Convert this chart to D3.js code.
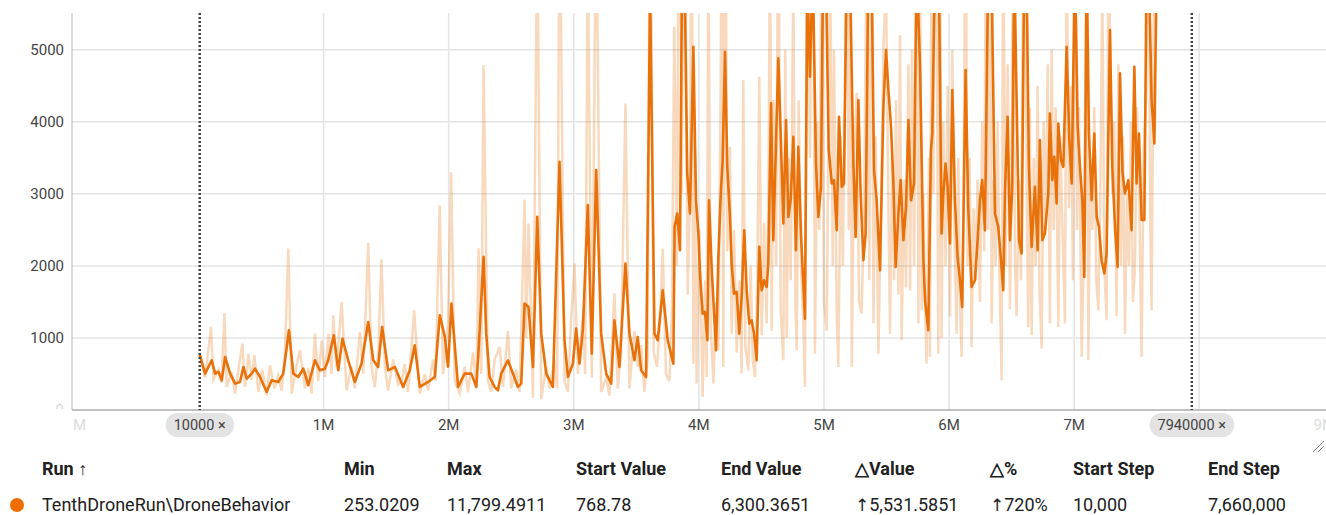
<!DOCTYPE html>
<html lang="en">
<head>
<meta charset="utf-8">
<script src="https://cdn.jsdelivr.net/npm/d3@7"></script>
<title>DroneBehavior</title>
<style>
  body { margin: 0; background: #fff; }
  text { font-family: Roboto, "Noto Sans", sans-serif; }
</style>
</head>
<body>
<div id="chart"></div>
<script>

// steps in millions
const rawSteps = [0.013,0.053,0.10,0.12,0.16,0.186,0.207,0.226,0.266,0.292,0.319,0.351,0.372,0.40,0.425,0.447,0.479,0.51,0.545,0.571,0.607,0.638,0.665,0.691,0.718,0.745,0.785,0.811,0.851,0.878,0.904,0.931,0.958,0.984,1.01,1.04,1.064,1.077,1.104,1.144,1.184,1.223,1.25,1.29,1.317,1.357,1.383,1.41,1.437,1.463,1.49,1.516,1.556,1.596,1.622,1.649,1.676,1.724,1.769,1.809,1.836,1.875,1.894,1.928,1.955,1.995,2.02,2.048,2.088,2.128,2.155,2.195,2.221,2.239,2.26,2.279,2.314,2.34,2.367,2.407,2.434,2.474,2.50,2.54,2.567,2.607,2.62,2.638,2.674,2.708,2.74,2.78,2.806,2.846,2.867,2.886,2.926,2.953,2.98,3.006,3.033,3.073,3.091,3.112,3.144,3.179,3.219,3.259,3.285,3.325,3.352,3.378,3.413,3.445,3.484,3.511,3.538,3.564,3.591,3.61,3.639,3.666,3.692,3.711,3.737,3.764,3.785,3.803,3.825,3.843,3.862,3.883,3.911,
  3.929,3.942,3.956,3.969,3.982,4.004,4.030,4.049,4.062,4.076,4.094,4.116,4.137,4.156,4.174,4.185,4.195,4.211,4.227,4.249,4.262,4.281,4.302,4.323,4.342,4.355,4.371,4.395,4.414,4.430,4.449,4.467,4.483,4.502,4.521,4.542,4.558,4.569,4.582,4.595,4.617,4.635,4.654,4.675,4.691,4.702,4.718,4.734,4.755,4.771,4.782,4.798,4.816,4.835,4.848,4.867,4.888,4.910,4.928,4.947,4.963,4.982,5.000,5.022,5.038,5.048,5.070,5.080,5.102,5.115,5.134,5.150,5.168,5.182,5.198,5.214,5.222,5.240,5.262,5.280,5.301,5.320,5.341,5.363,5.381,5.395,5.413,5.435,5.453,5.475,5.496,5.515,5.528,5.544,5.560,5.576,5.595,5.608,5.621,5.640,5.656,5.675,5.688,5.704,5.720,5.741,5.755,5.768,5.781,5.795,
  5.807,5.820,5.839,5.847,5.860,5.874,5.892,5.914,5.927,5.940,5.954,5.972,5.988,6.007,6.026,6.042,6.060,6.074,6.087,6.100,6.116,6.132,6.148,6.164,6.180,6.196,6.212,6.228,6.247,6.265,6.281,6.297,6.313,6.329,6.340,6.356,6.372,6.388,6.404,6.420,6.433,6.452,6.468,6.487,6.500,6.513,6.527,6.540,6.559,6.575,6.593,6.607,6.620,6.633,6.646,6.660,6.676,6.692,6.708,6.724,6.740,6.756,6.772,6.788,6.806,6.820,6.836,6.852,6.873,6.889,6.905,6.926,6.940,6.958,6.974,6.990,7.006,7.022,7.038,7.060,7.081,7.100,7.113,7.129,7.145,7.161,7.177,7.193,7.209,7.225,7.241,7.259,7.273,7.289,7.305,7.321,7.339,7.353,7.374,7.390,7.406,7.422,7.438,7.454,7.470,7.486,7.502,7.518,7.539,7.555,7.577,7.593,7.609,7.619,7.633,7.646,7.66];
const rawValues = [768,450,1153,420,560,380,1347,320,520,227,560,921,320,780,420,760,250,560,204,620,300,480,270,780,2240,230,620,830,300,580,230,1060,400,968,460,1060,500,1315,600,1500,270,600,300,1083,500,2320,600,320,800,2088,600,270,700,350,390,640,250,1384,227,500,270,700,400,2840,500,1200,3300,400,227,600,250,800,320,2245,500,4787,400,250,700,875,320,1100,300,560,250,2922,1000,2588,170,6800,150,600,300,700,300,7500,400,250,1300,2032,500,1300,500,6500,450,7200,250,450,200,1616,300,800,4255,300,1100,600,900,250,700,8500,800,600,1300,2240,500,400,1400,5320,2000,9000,3000,8000,1600,
  3000,8000,643,3500,366,2500,180,1800,458,6500,1200,366,1500,829,4500,7500,597,8000,2200,3653,1060,2500,800,1800,505,4579,900,550,2000,700,458,1800,4625,1037,2600,1200,3500,7000,1100,4301,2000,7500,1400,690,5000,1000,3500,1800,6000,1500,829,4300,2000,1200,320,8500,3500,9000,782,4000,2500,7000,1500,1100,4200,6500,2000,5000,1300,597,3800,2000,4500,8000,2500,7000,597,3500,4400,1500,1338,2800,6500,1800,9000,1200,3800,782,2500,5000,6000,2800,1060,3500,1800,4300,1600,5200,968,3200,1700,4800,1659,5000,2000,7000,1200,6500,1384,3000,
  1523,643,3500,736,7000,3000,9000,782,7500,1000,4000,2000,4500,1300,5000,2500,1060,3500,1500,736,3000,7500,2000,3500,875,2800,1800,3200,1500,4000,2200,8000,2500,9000,1199,3200,2000,4000,1800,412,7000,2000,4800,1400,3500,8000,2000,1300,3200,1800,6500,7500,3000,1150,4200,1037,3500,2000,4500,1600,852,4000,2500,4800,1199,5000,2500,4200,1153,3800,2600,1199,6500,2800,4500,1800,8000,2500,4200,736,2500,7500,690,3500,2500,4200,1800,1384,3000,6000,2000,1245,6500,5000,3000,4000,1300,4800,2000,3800,1060,3000,2000,4000,1500,1986,4200,3200,736,3500,4500,8000,2500,1384,5000,7000,6300];

const smoothSteps = [0.01,0.053,0.106,0.133,0.16,0.186,0.213,0.253,0.293,0.332,0.359,0.386,0.425,0.452,0.492,0.545,0.585,0.638,0.678,0.723,0.758,0.798,0.838,0.878,0.931,0.971,1.011,1.037,1.082,1.117,1.151,1.197,1.25,1.303,1.357,1.397,1.436,1.468,1.516,1.57,1.636,1.689,1.729,1.769,1.836,1.889,1.929,1.969,1.995,2.022,2.075,2.128,2.181,2.221,2.239,2.279,2.30,2.327,2.367,2.394,2.42,2.474,2.514,2.553,2.58,2.607,2.638,2.674,2.708,2.74,2.78,2.833,2.886,2.926,2.953,2.993,3.019,3.046,3.073,3.112,3.144,3.179,3.219,3.259,3.299,3.325,3.365,3.413,3.445,3.485,3.511,3.538,3.578,3.61,3.645,3.671,3.711,3.751,3.777,3.796,3.806,3.827,3.849,3.867,3.886,3.907,
  3.929,3.956,3.977,3.996,4.009,4.030,4.049,4.068,4.081,4.102,4.116,4.137,4.156,4.174,4.190,4.209,4.227,4.249,4.262,4.281,4.302,4.323,4.342,4.363,4.382,4.403,4.422,4.441,4.462,4.483,4.502,4.521,4.542,4.555,4.577,4.595,4.617,4.635,4.654,4.675,4.697,4.715,4.734,4.755,4.776,4.795,4.816,4.848,4.867,4.888,4.910,4.936,4.955,4.976,4.995,5.016,5.038,5.062,5.080,5.102,5.120,5.142,5.160,5.182,5.208,5.235,5.253,5.275,5.293,5.315,5.333,5.355,5.381,5.400,5.421,5.448,5.475,5.496,5.515,5.536,5.555,5.573,5.595,5.613,5.635,5.656,5.675,5.696,5.720,5.741,5.768,5.795,5.808,
  5.834,5.855,5.866,5.887,5.919,5.940,5.954,5.972,5.988,6.007,6.026,6.047,6.068,6.087,6.105,6.132,6.153,6.180,6.207,6.228,6.247,6.265,6.287,6.313,6.340,6.367,6.393,6.415,6.433,6.447,6.468,6.487,6.505,6.521,6.540,6.559,6.580,6.601,6.620,6.638,6.660,6.686,6.708,6.726,6.745,6.766,6.793,6.806,6.825,6.841,6.860,6.873,6.894,6.913,6.940,6.961,6.980,7.006,7.028,7.046,7.065,7.081,7.100,7.118,7.140,7.161,7.180,7.198,7.219,7.241,7.259,7.286,7.305,7.326,7.347,7.366,7.387,7.406,7.433,7.459,7.481,7.499,7.518,7.539,7.561,7.579,7.598,7.619,7.641,7.66];
const smoothValues = [769,505,690,505,528,412,736,505,366,389,597,435,505,574,458,250,412,389,505,1107,505,458,574,343,690,551,574,690,1037,551,990,690,389,643,1222,690,597,1153,551,597,320,551,898,320,389,458,1315,1014,600,1477,320,505,505,320,829,2125,1060,458,320,273,505,690,505,320,366,1477,1430,597,2680,1060,505,320,3445,968,458,643,1130,643,1130,2843,782,3329,1060,505,366,1245,597,2032,1060,690,1014,551,458,5800,1060,968,1662,968,782,643,2542,2727,2218,6500,6000,3283,
  2727,5042,2912,2449,1894,1338,1361,968,2912,1986,1523,829,2125,2958,3468,4972,3375,2680,2032,1616,1639,1060,1570,2495,1662,1199,1245,1060,690,2264,1662,1801,1708,2032,4255,2357,3746,4880,3838,2588,4024,2680,2912,3792,2218,3653,2449,1268,6000,4625,6200,3421,2680,3098,6500,6000,3607,3144,3190,2495,4070,3098,3144,6200,6000,3421,2403,4301,3005,2079,2449,6200,6000,3329,2912,1940,4209,4996,4440,3931,3144,1986,2727,3190,2357,2820,4024,2912,3144,6200,4764,2079,1523,
  1107,3607,3838,6200,6000,2449,3005,3421,3098,2310,4440,2912,2125,1801,1430,4718,2820,1708,1801,2357,2912,3190,2495,6200,6000,2727,2542,2079,1662,3051,4070,2357,3098,6200,4301,2357,2171,6200,6000,3375,2264,3098,2218,3746,2357,2449,3005,4116,3190,3514,2866,3977,3468,3375,5042,3746,3144,6200,3931,3375,2912,1847,6200,3838,2912,3838,2680,2542,2079,1894,2171,5273,3375,2542,1986,4672,3283,3005,3190,2495,4764,3144,3838,2636,2636,6200,6000,4301,3699,6200];

const yTicks = [0, 1000, 2000, 3000, 4000, 5000];
const xTicks = [-1, 0, 1, 2, 3, 4, 5, 6, 7, 8, 9];
const markers = [0.01, 7.94];
const markerLabels = ["10000 ×", "7940000 ×"];

const columns = ["Run ↑", "Min", "Max", "Start Value", "End Value", "△Value", "△%", "Start Step", "End Step"];
const rowValues = ["TenthDroneRun\\DroneBehavior", "253.0209", "11,799.4911", "768.78", "6,300.3651", "5,531.5851", "720%", "10,000", "7,660,000"];

const W = 1326, H = 515;
const plot = {left: 72, right: 1326, top: 13, bottom: 410};
const orange = "#e8710a";

const svg = d3.select("#chart").append("svg")
  .attr("width", W).attr("height", H);

const x = d3.scaleLinear().domain([-1.011, 9.013]).range([plot.left, plot.right]);
const y = d3.scaleLinear().domain([0, 5510]).range([plot.bottom, plot.top]);

const defs = svg.append("defs");
defs.append("clipPath").attr("id", "plotclip")
  .append("rect").attr("x", plot.left).attr("y", plot.top)
  .attr("width", plot.right - plot.left).attr("height", plot.bottom - plot.top);
defs.append("clipPath").attr("id", "xlabclip")
  .append("rect").attr("x", plot.left).attr("y", plot.bottom)
  .attr("width", plot.right - plot.left).attr("height", 30);
defs.append("clipPath").attr("id", "ylabclip")
  .append("rect").attr("x", 0).attr("y", 0)
  .attr("width", plot.left).attr("height", plot.bottom - 1);

// grid
svg.append("g").selectAll("line").data(yTicks.filter(d => d > 0)).join("line")
  .attr("x1", plot.left).attr("x2", plot.right)
  .attr("y1", d => y(d)).attr("y2", d => y(d))
  .attr("stroke", "#e4e4e4").attr("stroke-width", 1.5);
svg.append("g").selectAll("line").data(xTicks.filter(d => d >= 1 && d <= 8)).join("line")
  .attr("x1", d => x(d)).attr("x2", d => x(d))
  .attr("y1", plot.top).attr("y2", plot.bottom)
  .attr("stroke", "#e4e4e4").attr("stroke-width", 1.5);

// axes
svg.append("line").attr("x1", plot.left).attr("x2", plot.left)
  .attr("y1", plot.top).attr("y2", plot.bottom)
  .attr("stroke", "#b5b5b5").attr("stroke-width", 1);
svg.append("line").attr("x1", plot.left).attr("x2", plot.right)
  .attr("y1", plot.bottom).attr("y2", plot.bottom)
  .attr("stroke", "#c2c2c2").attr("stroke-width", 2);

svg.append("g").attr("clip-path", "url(#ylabclip)")
  .selectAll("text").data(yTicks).join("text")
  .attr("x", 64).attr("y", d => y(d)).attr("dy", "0.35em")
  .attr("text-anchor", "end").attr("font-size", 15)
  .attr("fill", d => d === 0 ? "#d8d8d8" : "#444")
  .text(d => d);

// 0M and 8M sit under the step chips, so they are not drawn
svg.append("g").attr("clip-path", "url(#xlabclip)")
  .selectAll("text").data(xTicks.filter(d => d !== 0 && d !== 8)).join("text")
  .attr("x", d => x(d)).attr("y", 425).attr("dy", "0.35em")
  .attr("text-anchor", "middle").attr("font-size", 15)
  .attr("fill", d => (d < 0 || d > 8) ? "#dcdcdc" : "#444")
  .text(d => d + "M");

// series
const line = d3.line().x(d => x(d[0])).y(d => y(d[1]));
const g = svg.append("g").attr("clip-path", "url(#plotclip)");
g.append("path").datum(d3.zip(rawSteps, rawValues))
  .attr("d", line).attr("fill", "none")
  .attr("stroke", orange).attr("stroke-opacity", 0.27).attr("stroke-width", 2.5);
g.append("path").datum(d3.zip(smoothSteps, smoothValues))
  .attr("d", line).attr("fill", "none")
  .attr("stroke", orange).attr("stroke-width", 2.6).attr("stroke-linejoin", "round");

// step markers
markers.forEach((m, i) => {
  svg.append("line").attr("x1", x(m)).attr("x2", x(m))
    .attr("y1", plot.top).attr("y2", plot.bottom)
    .attr("stroke", "#444").attr("stroke-width", 2.5).attr("stroke-dasharray", "2,2");
  const t = svg.append("text").attr("x", x(m)).attr("y", 425).attr("dy", "0.35em")
    .attr("text-anchor", "middle").attr("font-size", 14.5).attr("fill", "#444")
    .text(markerLabels[i]);
  const bb = t.node().getBBox();
  svg.insert("rect", () => t.node())
    .attr("x", bb.x - 8).attr("y", 413).attr("width", bb.width + 16).attr("height", 24)
    .attr("rx", 12).attr("fill", "#e3e3e3");
});

// resize handle
svg.append("path").attr("d", "M1313,452 L1324,441 M1318,452 L1324,446")
  .attr("stroke", "#888").attr("stroke-width", 1).attr("fill", "none");

// table
const colX = [42, 344, 447, 576, 721, 855, 990, 1073, 1208];
svg.append("g").selectAll("text").data(columns).join("text")
  .attr("x", (d, i) => colX[i]).attr("y", 475)
  .attr("font-size", 18).attr("font-weight", 700).attr("fill", "#212121")
  .text(d => d);

svg.append("circle").attr("cx", 17).attr("cy", 505).attr("r", 7).attr("fill", "#ef6c00");
const row = svg.append("g").selectAll("text").data(rowValues).join("text")
  .attr("x", (d, i) => colX[i]).attr("y", 511)
  .attr("font-size", 18).attr("fill", "#212121");
row.each(function(d, i) {
  const t = d3.select(this);
  if (i === 5 || i === 6) {
    t.append("tspan").attr("font-size", 17).attr("font-family", "DejaVu Sans").text("↑");
  }
  t.append("tspan").text(d);
});
</script>
</body>
</html>
